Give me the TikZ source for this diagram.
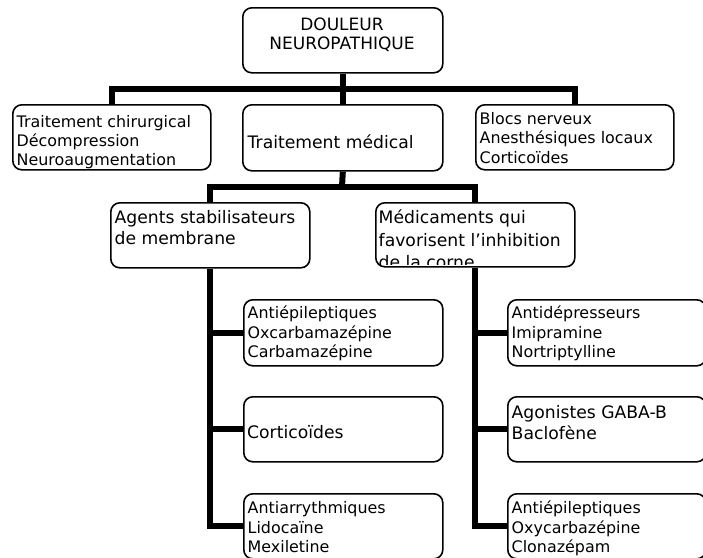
\documentclass[tikz,border=0pt]{standalone}
\usepackage{fontspec}
\setmainfont{DejaVu Sans}
\newcommand{\fsa}{\fontsize{15.9}{19.3}\selectfont}
\newcommand{\fsb}{\fontsize{17.2}{21.2}\selectfont}
\newcommand{\fsd}{\fontsize{17.2}{22.6}\selectfont}
\newcommand{\fsc}{\fontsize{17}{19.5}\selectfont}
\tikzset{
  box/.style={draw=black, line width=1.6pt, rounded corners=9pt, inner sep=0pt, anchor=north west},
  txt/.style={inner sep=0pt, anchor=north west, align=left, text=black},
  conn/.style={draw=black, line width=6pt},
}
\begin{document}
\begin{tikzpicture}[x=1pt, y=-1pt]
\useasboundingbox (0,0) rectangle (703,557);
\clip (0,0) rectangle (703,557);
% boxes
\node[box, minimum width=200pt, minimum height=65pt] (root) at (242,7) {};
\node[box, minimum width=198pt, minimum height=65pt] (L2a) at (12,104) {};
\node[box, minimum width=200pt, minimum height=66pt] (L2b) at (242,104) {};
\node[box, minimum width=198pt, minimum height=65pt] (L2c) at (475,104) {};
\node[box, minimum width=199pt, minimum height=65pt] (L3a) at (110,202) {};
\node[box, minimum width=199pt, minimum height=64pt] (L3b) at (375,202) {};
\node[box, minimum width=199pt, minimum height=66pt] (L4a1) at (243,299) {};
\node[box, minimum width=199pt, minimum height=65pt] (L4a2) at (243,396) {};
\node[box, minimum width=199pt, minimum height=65pt] (L4a3) at (243,493) {};
\node[box, minimum width=198pt, minimum height=66pt] (L4b1) at (507,299) {};
\node[box, minimum width=198pt, minimum height=65pt] (L4b2) at (507,396) {};
\node[box, minimum width=198pt, minimum height=65pt] (L4b3) at (507,493) {};
% texts
\node[inner sep=0pt, anchor=north, align=center, font=\fsc] (troot) at (342,16.35) {\strut DOULEUR\\NEUROPATHIQUE};
\node[txt, font=\fsa] (tL2a) at (16.5,113.5) {\strut Traitement chirurgical\\Décompression\\Neuroaugmentation};
\node[txt, font=\fsb] (tL2b) at (247.5,133.5) {\strut Traitement médical};
\node[txt, font=\fsa] (tL2c) at (479.5,110.8) {\strut Blocs nerveux\\Anesthésiques locaux\\Corticoïdes};
\node[txt, font=\fsb] (tL3a) at (114.5,208.5) {\strut Agents stabilisateurs\\de membrane};
\begin{scope}
\clip ([xshift=1pt]L3b.north west) rectangle ([yshift=3pt]L3b.south east);
\node[txt, font=\fsd] (tL3b) at (378.5,207.7) {\strut Médicaments qui\\favorisent l’inhibition\\de la corne};
\end{scope}
\node[txt, font=\fsa] (tL4a1) at (247.5,305) {\strut Antiépileptiques\\Oxcarbamazépine\\Carbamazépine};
\node[txt, font=\fsb] (tL4a2) at (247,423.5) {\strut Corticoïdes};
\node[txt, font=\fsa] (tL4a3) at (247.5,500) {\strut Antiarrythmiques\\Lidocaïne\\Mexiletine};
\node[txt, font=\fsa] (tL4b1) at (511.5,305) {\strut Antidépresseurs\\Imipramine\\Nortriptylline};
\node[txt, font=\fsb] (tL4b2) at (511.5,403.5) {\strut Agonistes GABA-B\\Baclofène};
\node[txt, font=\fsa] (tL4b3) at (511.5,500) {\strut Antiépileptiques\\Oxycarbazépine\\Clonazépam};
% connectors
\coordinate (bar1) at (342,89);
\coordinate (bar2) at (342,187);
\draw[conn] (root.south) -- (L2b.north);
\draw[conn] (L2a.north) |- (bar1) -| (L2c.north);
\draw[conn] (L2b.south) -- (bar2);
\draw[conn] (L3a.north) |- (bar2) -| (L3b.north);
\draw[conn] (L3a.south) |- (L4a3.west);
\draw[conn] (L3a.south |- L4a1.west) -- (L4a1.west);
\draw[conn] (L3a.south |- L4a2.west) -- (L4a2.west);
\draw[conn] (L3b.south) |- (L4b3.west);
\draw[conn] (L3b.south |- L4b1.west) -- (L4b1.west);
\draw[conn] (L3b.south |- L4b2.west) -- (L4b2.west);
\end{tikzpicture}
\end{document}
